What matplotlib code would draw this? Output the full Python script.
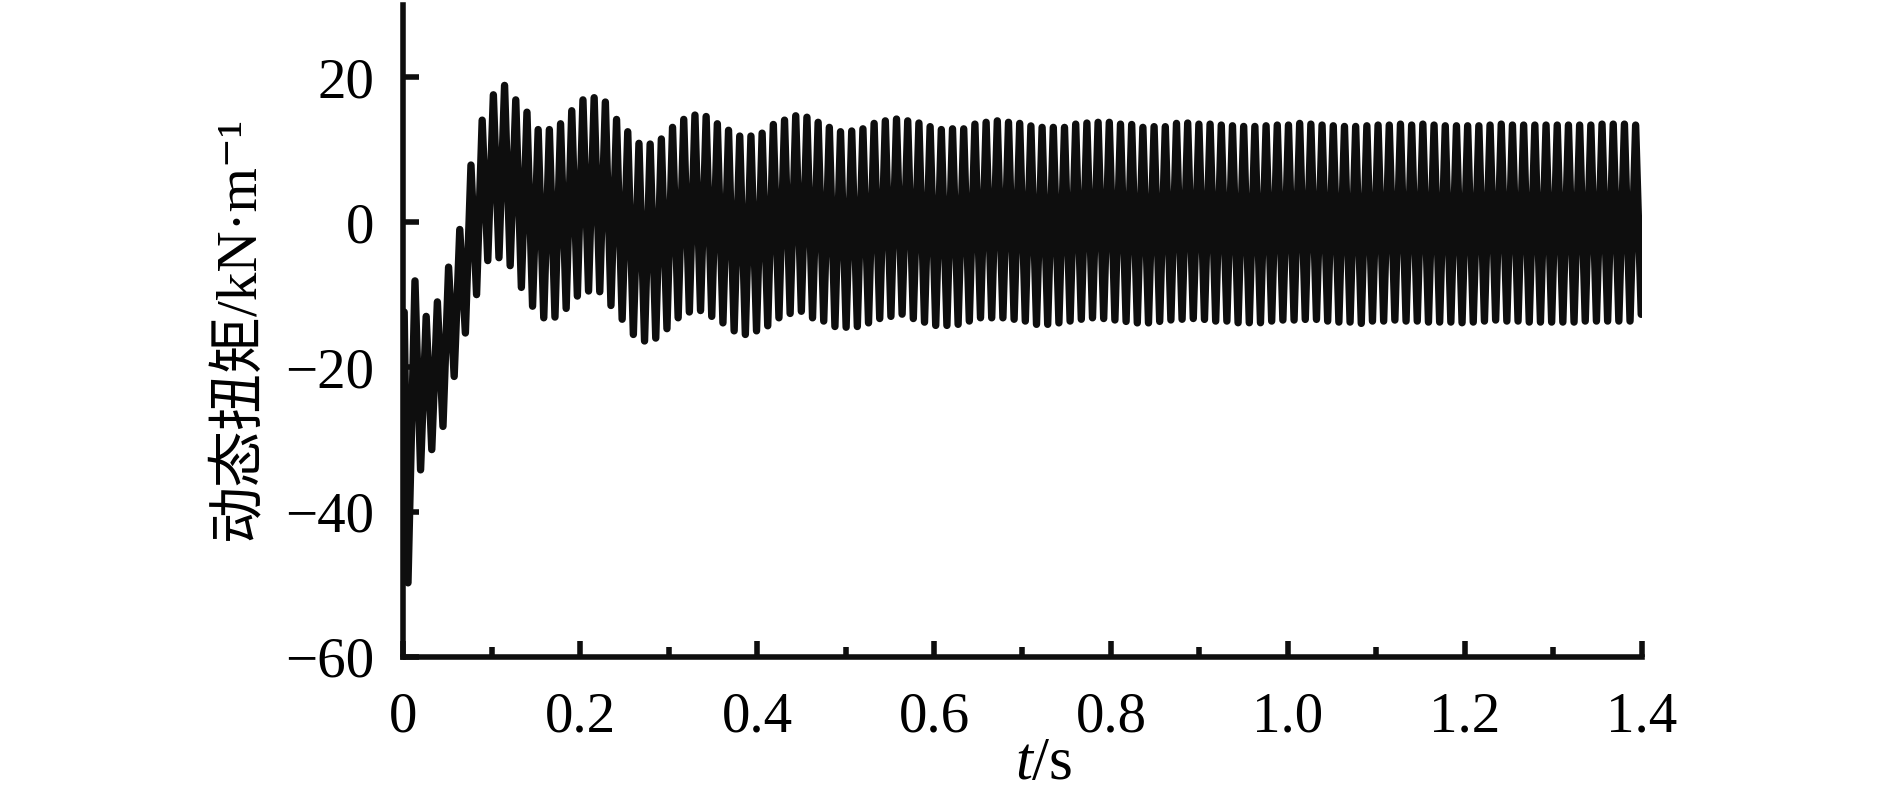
import numpy as np
import matplotlib
matplotlib.use("Agg")
import matplotlib.pyplot as plt
from matplotlib.ticker import FixedLocator, FixedFormatter

# ---------------- data ----------------
# start of the record (t, value)
start_t = [0.001, 0.0053]
start_v = [-12.4, -49.8]

# oscillation: time of first upper peak and period (s)
first_peak_t = 0.0132
period = 0.01266

# upper peak value of every cycle (kN·m)
upper_peaks = [
    -8.1, -13.0, -11.0, -6.2, -1.0, 7.9, 14.1, 17.6, 18.9, 16.9,
    15.2, 12.8, 12.8, 13.6, 15.4, 16.9, 17.2, 16.6, 14.2, 12.5,
    10.9, 10.8, 11.5, 13.1, 14.2, 14.8, 14.6, 13.6, 12.7, 11.9,
    11.9, 12.3, 13.5, 14.1,
    14.7, 14.5, 13.8, 13.1, 12.5, 12.6, 12.9, 13.65, 14.0, 14.25,
    14.0, 13.7, 13.2, 12.8, 12.9, 12.9, 13.55, 13.8, 14.0, 13.8,
    13.65, 13.3, 13.1, 13.1, 13.1, 13.55, 13.7, 13.8, 13.8, 13.55,
    13.5, 13.1, 13.2, 13.2, 13.65, 13.7,
    13.55, 13.55, 13.42, 13.32, 13.23, 13.23, 13.32, 13.42, 13.42, 13.65,
    13.55, 13.42, 13.32, 13.23, 13.23, 13.32, 13.42, 13.42, 13.55, 13.42,
    13.55, 13.42, 13.32, 13.32, 13.32, 13.32, 13.42, 13.55, 13.42, 13.42,
    13.42, 13.42, 13.42, 13.42, 13.42, 13.42, 13.55, 13.55, 13.55, 13.42,
]

# lower peak (trough) value following every upper peak (kN·m)
lower_peaks = [
    -34.2, -31.4, -28.2, -21.3, -15.3,
    -10.0, -5.3, -4.9, -6.0, -9.0, -11.6, -13.2, -13.1, -11.9, -10.2,
    -9.5, -9.6, -11.5, -13.4, -15.5, -16.4, -16.0, -14.7, -13.2, -12.4,
    -12.2, -13.0, -13.9, -15.0, -15.5, -15.0, -14.3, -13.2,
    -12.6, -12.3, -13.2, -13.65, -14.4, -14.5, -14.4, -13.9, -13.3, -13.0,
    -12.7, -13.3, -13.8, -14.25, -14.25, -14.1, -13.65, -13.2, -13.2, -13.2,
    -13.4, -13.65, -14.1, -14.1, -13.9, -13.65, -13.4, -13.2, -13.3, -13.5,
    -13.7, -13.9, -13.9, -13.7, -13.5, -13.4, -13.3,
    -13.42, -13.65, -13.65, -13.88, -13.88, -13.88, -13.65, -13.51, -13.51, -13.42,
    -13.42, -13.65, -13.79, -13.79, -13.97, -13.65, -13.65, -13.51, -13.65, -13.65,
    -13.79, -13.79, -13.79, -13.88, -13.79, -13.65, -13.51, -13.65, -13.65, -13.79,
    -13.79, -13.79, -13.79, -13.79, -13.65, -13.65, -13.65, -13.65, -13.65, -12.72,
]

x_ticks = [0, 0.2, 0.4, 0.6, 0.8, 1.0, 1.2, 1.4]
x_tick_labels = ["0", "0.2", "0.4", "0.6", "0.8", "1.0", "1.2", "1.4"]
x_minor = [0.1, 0.3, 0.5, 0.7, 0.9, 1.1, 1.3]
y_ticks = [-60, -40, -20, 0, 20]
y_tick_labels = ["\u221260", "\u221240", "\u221220", "0", "20"]

ylabel_text = "动态扭矩/kN·m⁻¹"

# ---------------- build series ----------------
n = len(upper_peaks)
t_up = first_peak_t + period * np.arange(n)
t_dn = t_up + period / 2
t = np.empty(2 * n)
v = np.empty(2 * n)
t[0::2], t[1::2] = t_up, t_dn
v[0::2], v[1::2] = upper_peaks, lower_peaks
t = np.concatenate([start_t, t])
v = np.concatenate([start_v, v])

# ---------------- figure ----------------
plt.rcParams["mathtext.fontset"] = "custom"
plt.rcParams["mathtext.rm"] = "Liberation Serif"
plt.rcParams["mathtext.it"] = "Liberation Serif:italic"

W, H = 1890, 796
fig = plt.figure(figsize=(W / 100, H / 100), dpi=100)
left, right, bottom_px, top_px = 403.3, 1641.7, 656.7, 5.0
ax = fig.add_axes([left / W, 1 - bottom_px / H, (right - left) / W, (bottom_px - top_px) / H])

ink = "#0e0e0e"
ax.plot(t, v, color=ink, lw=5.3, solid_joinstyle="round", solid_capstyle="round",
        antialiased=True, zorder=3)

ax.set_xlim(0, 1.4)
ax.set_ylim(-60, 30)

for s in ("top", "right"):
    ax.spines[s].set_visible(False)
for s in ("left", "bottom"):
    ax.spines[s].set_linewidth(4.0)
    ax.spines[s].set_color(ink)
    ax.spines[s].set_capstyle("projecting")

ax.xaxis.set_major_locator(FixedLocator(x_ticks))
ax.xaxis.set_major_formatter(FixedFormatter(x_tick_labels))
ax.xaxis.set_minor_locator(FixedLocator(x_minor))
ax.yaxis.set_major_locator(FixedLocator(y_ticks))
ax.yaxis.set_major_formatter(FixedFormatter(y_tick_labels))

ax.tick_params(axis="both", which="major", direction="in", length=11.5, width=4.0, color=ink)
ax.tick_params(axis="x", which="minor", direction="in", length=7.5, width=4.0, color=ink)
ax.tick_params(axis="x", which="major", pad=25)
ax.tick_params(axis="y", which="major", pad=21)
for lab in ax.get_xticklabels() + ax.get_yticklabels():
    lab.set_fontfamily("Liberation Serif")
    lab.set_fontsize(41)
    lab.set_color("black")

fig.text(239 / W, 1 - 328 / H, ylabel_text, rotation=90, ha="center", va="center",
         fontsize=41, family=["Liberation Serif", "Noto Sans CJK SC", "DejaVu Serif"],
         color="black")
fig.text(1044 / W, 4 / H, "$t$/s", ha="center", va="bottom",
         fontsize=44, family="Liberation Serif", color="black")

fig.savefig("out.png", dpi=100)
